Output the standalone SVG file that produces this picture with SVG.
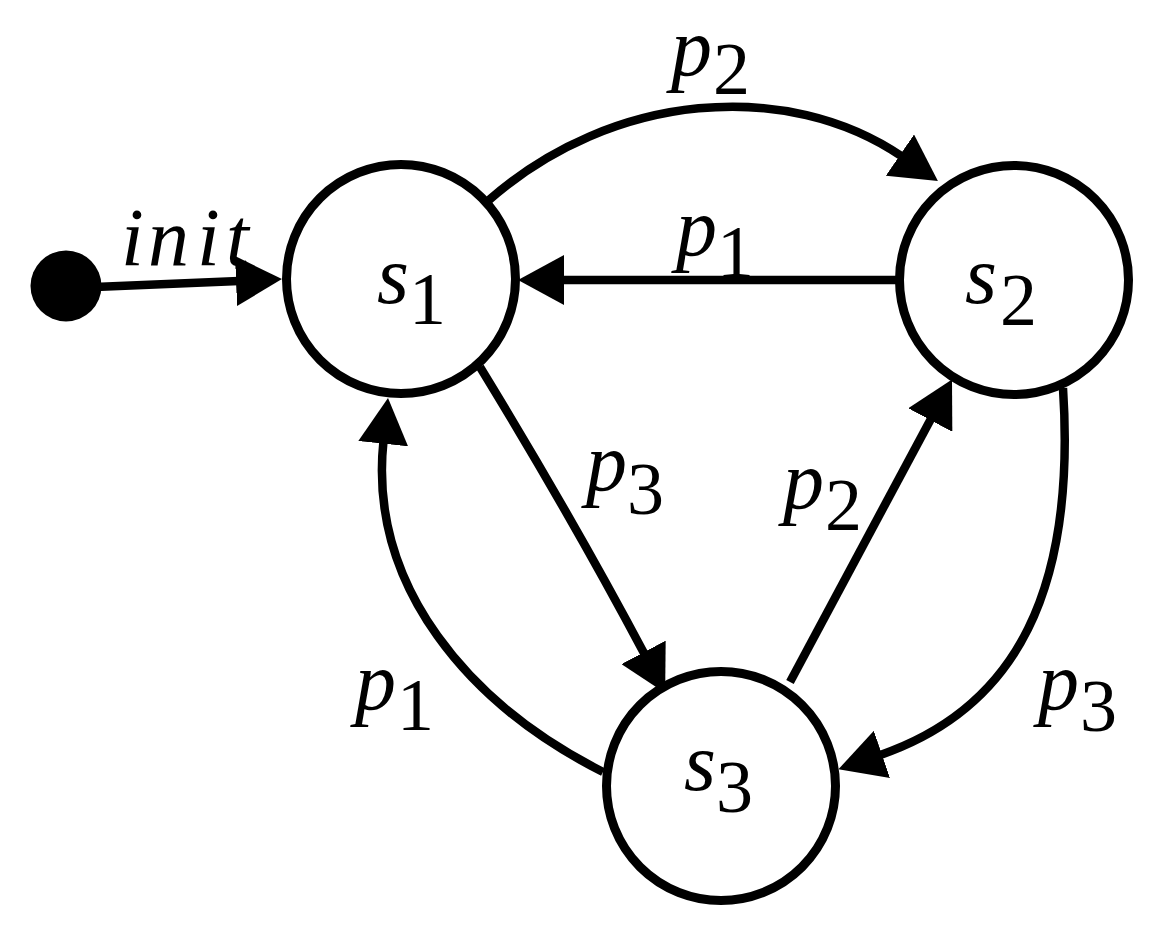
<svg xmlns="http://www.w3.org/2000/svg" width="1164" height="943" viewBox="0 0 1164 943">
  <style>
    .node { fill: #ffffff; stroke: #000000; stroke-width: 9; }
    .edge { fill: none; stroke: #000000; stroke-width: 8.5; marker-end: url(#arrow); }
    text { font-family: "Liberation Serif", "DejaVu Serif", serif; fill: #000000; }
    .lbl { font-style: italic; font-size: 82px; }
    .sub { font-style: normal; font-size: 74px; }
  </style>
  <defs>
    <marker id="arrow" markerUnits="userSpaceOnUse" viewBox="0 0 46 50" markerWidth="46" markerHeight="50" refX="3" refY="25" orient="auto">
      <path d="M0,0 L46,25 L0,50 Z" fill="#000000"/>
    </marker>
  </defs>
  <rect x="0" y="0" width="1164" height="943" fill="#ffffff"/>

  <g id="connectors">
    <g id="e-init">
      <path class="edge" d="M95,287 L239,280.9"/>
      <text class="lbl" x="121 148 197 226" y="265" font-size="90">init</text>
    </g>
    <g id="e-s1-s2">
      <path class="edge" d="M489,200 C612,92 787,78 902.4,156.8"/>
      <text><tspan class="lbl" x="671" y="75">p</tspan><tspan class="sub" x="713" y="94">2</tspan></text>
    </g>
    <g id="e-s2-s1">
      <path class="edge" d="M899,280 L561,280"/>
      <text><tspan class="lbl" x="676" y="255">p</tspan><tspan class="sub" x="717" y="277">1</tspan></text>
    </g>
    <g id="e-s1-s3">
      <path class="edge" d="M480,367 Q572,517.5 645,655"/>
      <text><tspan class="lbl" x="586" y="490">p</tspan><tspan class="sub" x="627" y="514">3</tspan></text>
    </g>
    <g id="e-s3-s2">
      <path class="edge" d="M790,682 L931.7,417.4"/>
      <text><tspan class="lbl" x="783" y="508">p</tspan><tspan class="sub" x="825" y="530">2</tspan></text>
    </g>
    <g id="e-s2-s3">
      <path class="edge" d="M1063,388 C1076,588 1018,708 879.1,755.4"/>
      <text><tspan class="lbl" x="1038" y="709">p</tspan><tspan class="sub" x="1080" y="731">3</tspan></text>
    </g>
    <g id="e-s3-s1">
      <path class="edge" d="M603,772 C469.5,704.5 368.1,586.8 383.5,440.7"/>
      <text><tspan class="lbl" x="355" y="709">p</tspan><tspan class="sub" x="397" y="730">1</tspan></text>
    </g>
  </g>

  <g id="start">
    <circle cx="66" cy="286" r="35.5" fill="#000000"/>
  </g>
  <g id="s1">
    <circle class="node" cx="401" cy="279" r="114.5"/>
    <text><tspan class="lbl" x="377" y="303">s</tspan><tspan class="sub" x="409" y="324">1</tspan></text>
  </g>
  <g id="s2">
    <circle class="node" cx="1014" cy="280" r="114.5"/>
    <text><tspan class="lbl" x="965" y="303">s</tspan><tspan class="sub" x="1000" y="325">2</tspan></text>
  </g>
  <g id="s3">
    <circle class="node" cx="721" cy="786" r="114.5"/>
    <text><tspan class="lbl" x="684" y="790">s</tspan><tspan class="sub" x="716" y="812">3</tspan></text>
  </g>
</svg>
